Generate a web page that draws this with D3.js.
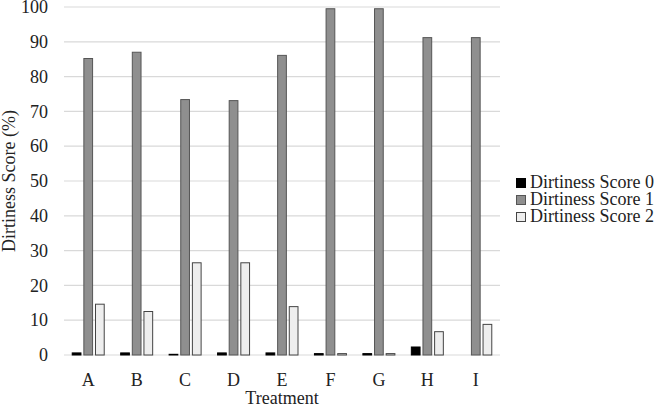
<!DOCTYPE html>
<html><head><meta charset="utf-8">
<script src="https://cdn.jsdelivr.net/npm/d3@7"></script>
<style>body{margin:0;background:#fff}svg{display:block}text{font-family:"Liberation Serif","Times New Roman",serif;fill:#222}</style>
</head><body><svg id="c" width="660" height="409"></svg>
<script>
const categories = ["A","B","C","D","E","F","G","H","I"];
const seriesNames = ["Dirtiness Score 0","Dirtiness Score 1","Dirtiness Score 2"];
const score0 = [0.6,0.6,0.2,0.6,0.6,0.4,0.4,2.3,0];
const score1 = [85.2,87.0,73.4,73.1,86.1,99.5,99.5,91.2,91.2];
const score2 = [14.6,12.5,26.5,26.5,13.9,0.4,0.4,6.7,8.8];
const yTicks = [0,10,20,30,40,50,60,70,80,90,100];
const colors = ["#000000","#8f8f8f","#eeeeee"];
const strokes = ["#000000","#555555","#444444"];

const FONT = '"Liberation Serif","Times New Roman",serif';
const svg = d3.select("#c");
const m = {l:64, r:160, t:7, b:54};
const W = 660, H = 409;
const x = d3.scaleBand().domain(categories).range([m.l, W-m.r]);
const y = d3.scaleLinear().domain([0,100]).range([H-m.b, m.t]);
const xs = d3.scaleBand().domain([0,1,2]).range([x.bandwidth()/2-16, x.bandwidth()/2+16]).paddingInner(0.25);

// gridlines
svg.append("g").selectAll("line").data(yTicks).join("line")
  .attr("x1", m.l).attr("x2", W-m.r)
  .attr("y1", d=>y(d)).attr("y2", d=>y(d))
  .attr("stroke","#d9d9d9").attr("stroke-width",1.2);

// y axis labels
const ya = svg.append("g").attr("transform",`translate(${m.l},0)`)
  .call(d3.axisLeft(y).tickValues(yTicks).tickSize(0).tickPadding(16));
ya.select(".domain").remove();
ya.attr("font-family", FONT).attr("font-size", 18);
ya.selectAll("text").attr("fill","#222");

// x axis labels
const xa = svg.append("g").attr("transform",`translate(0,${H-m.b})`)
  .call(d3.axisBottom(x).tickSize(0).tickPadding(18));
xa.select(".domain").remove();
xa.attr("font-family", FONT).attr("font-size", 18);
xa.selectAll("text").attr("fill","#222");

const series = [score0, score1, score2];
series.forEach((vals, si) => {
  const data = vals.map((v,i)=>({c:categories[i], v})).filter(d=>d.v>0);
  svg.append("g").selectAll("rect").data(data)
    .join("rect")
    .attr("x", d=>x(d.c)+xs(si))
    .attr("width", xs.bandwidth())
    .attr("y", d=>y(d.v))
    .attr("height", d=>y(0)-y(d.v))
    .attr("fill", colors[si])
    .attr("stroke", strokes[si]).attr("stroke-width",1);
});

// axis titles
svg.append("text").attr("x",(m.l+W-m.r)/2).attr("y",404).attr("text-anchor","middle")
  .attr("font-family",FONT).attr("font-size",18).text("Treatment");
svg.append("text").attr("transform",`translate(15,${(m.t+H-m.b)/2}) rotate(-90)`)
  .attr("text-anchor","middle").attr("font-family",FONT).attr("font-size",18).text("Dirtiness Score (%)");

// legend
const lg = svg.append("g").attr("transform","translate(516,188)");
seriesNames.forEach((n,i)=>{
  const g = lg.append("g").attr("transform",`translate(0,${i*17})`);
  g.append("rect").attr("x",0.5).attr("y",-9.5).attr("width",9).attr("height",9)
    .attr("fill",colors[i]).attr("stroke",strokes[i]);
  g.append("text").attr("x",14).attr("y",0).attr("font-family",FONT).attr("font-size",18).text(n);
});
</script></body></html>
